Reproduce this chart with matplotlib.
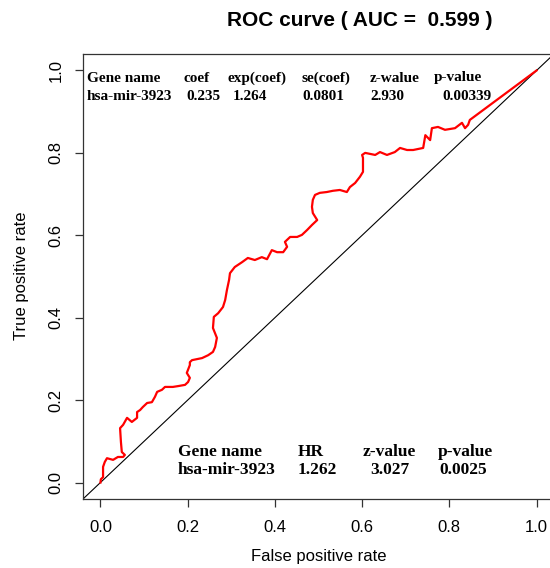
import numpy as np
import matplotlib
matplotlib.use("Agg")
import matplotlib.pyplot as plt

# ROC curve points (false positive rate, true positive rate)
fpr = [0.000, 0.001, 0.006, 0.006, 0.010, 0.015, 0.029, 0.040, 0.052, 0.056,
       0.049, 0.047, 0.045, 0.052, 0.061, 0.072, 0.084, 0.084, 0.091, 0.097,
       0.107, 0.118, 0.125, 0.130, 0.141, 0.148, 0.166, 0.178, 0.194, 0.201,
       0.205, 0.198, 0.205, 0.205, 0.210, 0.233, 0.247, 0.258, 0.263, 0.267,
       0.258, 0.260, 0.270, 0.281, 0.286, 0.290, 0.295, 0.297, 0.308, 0.325,
       0.338, 0.354, 0.370, 0.382, 0.393, 0.405, 0.419, 0.428, 0.423, 0.435,
       0.451, 0.462, 0.474, 0.485, 0.497, 0.487, 0.485, 0.487, 0.492, 0.503,
       0.519, 0.533, 0.549, 0.565, 0.572, 0.584, 0.595, 0.602, 0.602, 0.600,
       0.607, 0.630, 0.641, 0.657, 0.675, 0.687, 0.703, 0.717, 0.740, 0.745,
       0.756, 0.760, 0.774, 0.790, 0.813, 0.829, 0.836, 0.843, 0.847, 1.000]
tpr = [0.000, 0.008, 0.013, 0.038, 0.050, 0.059, 0.055, 0.062, 0.062, 0.067,
       0.074, 0.098, 0.132, 0.140, 0.157, 0.147, 0.157, 0.171, 0.176, 0.183,
       0.193, 0.195, 0.208, 0.220, 0.225, 0.232, 0.232, 0.234, 0.237, 0.244,
       0.254, 0.266, 0.285, 0.292, 0.297, 0.302, 0.309, 0.317, 0.329, 0.351,
       0.375, 0.402, 0.411, 0.426, 0.443, 0.467, 0.492, 0.508, 0.523, 0.535,
       0.545, 0.540, 0.547, 0.542, 0.564, 0.559, 0.559, 0.572, 0.584, 0.596,
       0.596, 0.601, 0.613, 0.625, 0.637, 0.654, 0.669, 0.686, 0.698, 0.703,
       0.705, 0.708, 0.710, 0.705, 0.717, 0.727, 0.742, 0.754, 0.788, 0.795,
       0.800, 0.795, 0.802, 0.795, 0.802, 0.812, 0.807, 0.807, 0.812, 0.843,
       0.831, 0.860, 0.863, 0.856, 0.860, 0.873, 0.860, 0.868, 0.880, 1.000]
auc = 0.599

ticks = [0.0, 0.2, 0.4, 0.6, 0.8, 1.0]
tick_labels = ["0.0", "0.2", "0.4", "0.6", "0.8", "1.0"]

# Cox regression table (top) and HR table (bottom)
cox_header = ["Gene name", "coef", "exp(coef)", "se(coef)", "z-walue", "p-value"]
cox_values = ["hsa-mir-3923", "0.235", "1.264", "0.0801", "2.930", "0.00339"]
hr_header = ["Gene name", "HR", "z-value", "p-value"]
hr_values = ["hsa-mir-3923", "1.262", "3.027", "0.0025"]

W, H = 550, 568
fig = plt.figure(figsize=(W / 100, H / 100), dpi=100)
ax = fig.add_axes([83 / W, 69 / H, 471 / W, 445 / H])

sans = "Liberation Sans"
serif = "Liberation Serif"

ax.plot(fpr, tpr, color="red", lw=1.6, zorder=3)
ax.axline((0, 0), slope=1, color="black", lw=0.8)

ax.set_xlim(-0.04, 1.04)
ax.set_ylim(-0.04, 1.04)
ax.set_xticks(ticks)
ax.set_xticklabels(tick_labels, family=sans, fontsize=12)
ax.set_yticks(ticks)
ax.set_yticklabels(tick_labels, family=sans, fontsize=12, rotation=90, va="center")
ax.tick_params(axis="x", length=6, width=0.9, color="#333333", pad=9)
ax.tick_params(axis="y", length=6, width=0.9, color="#333333", pad=8)
for s in ax.spines.values():
    s.set_color("#333333")
    s.set_linewidth(0.9)

fig.text(318.5 / W, 1 - 557 / H, "False positive rate", family=sans, fontsize=12,
         ha="center", va="center")
fig.text(22 / W, 1 - 276 / H, "True positive rate", family=sans, fontsize=12,
         ha="center", va="center", rotation=90)
fig.text(360 / W, 1 - 20 / H, "ROC curve ( AUC =  %.3f )" % auc, family=sans,
         fontsize=15, fontweight="bold", ha="center", va="center")

# top table
cox_x_head = [87, 184, 228, 302, 370, 434]
cox_x_val = [87, 186, 233, 302, 370, 442]
for txt, x in zip(cox_header, cox_x_head):
    fig.text(x / W, 1 - 78 / H, txt, family=serif, fontsize=11, fontweight="bold",
             ha="left", va="center")
for txt, x in zip(cox_values, cox_x_val):
    fig.text(x / W, 1 - 97 / H, txt, family=serif, fontsize=11, fontweight="bold",
             ha="left", va="center")

# bottom table
hr_x_head = [178, 298, 363, 438]
hr_x_val = [178, 298, 370, 439]
for txt, x in zip(hr_header, hr_x_head):
    fig.text(x / W, 1 - 452 / H, txt, family=serif, fontsize=12.5, fontweight="bold",
             ha="left", va="center")
for txt, x in zip(hr_values, hr_x_val):
    fig.text(x / W, 1 - 470 / H, txt, family=serif, fontsize=12.5, fontweight="bold",
             ha="left", va="center")

fig.savefig("out.png", dpi=100)
